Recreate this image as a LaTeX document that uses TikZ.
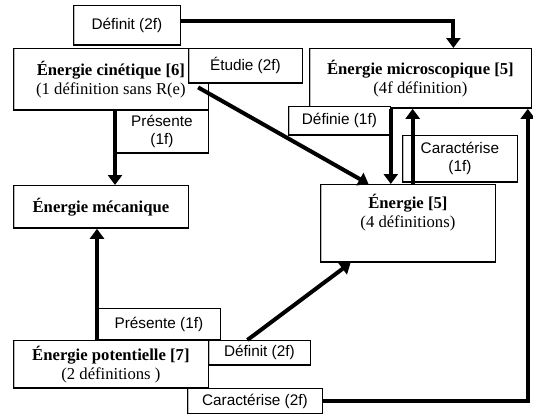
\documentclass[tikz,border=0pt]{standalone}
\usepackage{fontspec}
\setmainfont{Liberation Serif}
\setsansfont{Liberation Sans}
\usetikzlibrary{arrows.meta, positioning}

\begin{document}
\begin{tikzpicture}[x=0.75pt, y=-0.75pt,
    boxlook/.style={rectangle, draw, line width=0.6pt, fill=white, anchor=north west,
                    align=center, inner sep=2pt,
                    path picture={
                      \draw[gray!55, line width=3pt] (path picture bounding box.south west) -- (path picture bounding box.north west);
                      \draw[line width=2.6pt] (path picture bounding box.south west) -- (path picture bounding box.south east);}},
    concept/.style={boxlook, font=\fontsize{12.5}{14.5}\selectfont},
    tag/.style={boxlook, font=\sffamily\fontsize{11.5}{13.5}\selectfont},
    arrow/.style={-{Triangle[length=7.5pt, width=10.5pt]}, line width=3pt},
]
\useasboundingbox (0,0) rectangle (533,414);

% Concepts
\node[concept, minimum width=146.25pt, minimum height=46.5pt] (cin) at (13,48)
    {\textbf{Énergie cinétique [6]}\\(1 définition sans R(e)};
\node[concept, minimum width=166.5pt, minimum height=45pt] (micro) at (309,48)
    {\textbf{Énergie microscopique [5]}\\(4f définition)};
\node[concept, minimum width=131.25pt, minimum height=32.25pt] (meca) at (13,185)
    {\textbf{Énergie mécanique}};
\node[concept, minimum width=131.25pt, minimum height=58.5pt] (energie) at (320,184)
    {\parbox[c][44pt][t]{120pt}{\centering\textbf{Énergie [5]}\\(4 définitions)}};
\node[concept, minimum width=146.25pt, minimum height=36pt] (pot) at (13,340)
    {\textbf{Énergie potentielle [7]}\\(2 définitions )};

% Link labels
\node[tag, minimum width=80.25pt, minimum height=30pt] (def1) at (73,5) {Définit (2f)};
\node[tag, minimum width=85.5pt, minimum height=26.25pt] (etudie) at (188,48) {Étudie (2f)};
\node[tag, minimum width=69.75pt, minimum height=32.25pt] (pres1) at (115,110) {Présente\\(1f)};
\node[tag, minimum width=76.5pt, minimum height=21.75pt] (definie) at (288,106) {Définie (1f)};
\node[tag, minimum width=86.25pt, minimum height=35.25pt] (car1) at (402,135) {Caractérise\\(1f)};
\node[tag, minimum width=92.25pt, minimum height=24pt] (pres2) at (97,308) {Présente (1f)};
\node[tag, minimum width=76.5pt, minimum height=18.75pt] (def2) at (208,340) {Définit (2f)};
\node[tag, minimum width=101.25pt, minimum height=19.5pt] (car2) at (187,388) {Caractérise (2f)};

% Helper points
\coordinate (micro-in) at ([xshift=24.75pt]micro.north);
\coordinate (car-up) at ([xshift=8pt]car1.west);

% Arrows
\draw[arrow] ([yshift=3pt]def1.east) -| (micro-in);
\draw[arrow] ([xshift=-8pt, yshift=-6pt]cin.east) -- ([xshift=-29.5pt]energie.north);
\draw[arrow] (pres1.west |- cin.south) -- (pres1.west |- meca.north);
\draw[arrow] (pres2.west |- pot.north) -- (pres2.west |- meca.south);
\draw[arrow] ([xshift=-9pt]def2.north) -- ([xshift=-43pt]energie.south);
\draw[arrow] (definie.east |- micro.south) -- (definie.east |- energie.north);
\draw[arrow] (car-up |- energie.north) -- (car-up |- micro.south);
\draw[arrow] (car2.east) -| ([xshift=-3pt]micro.south east);
\end{tikzpicture}
\end{document}
